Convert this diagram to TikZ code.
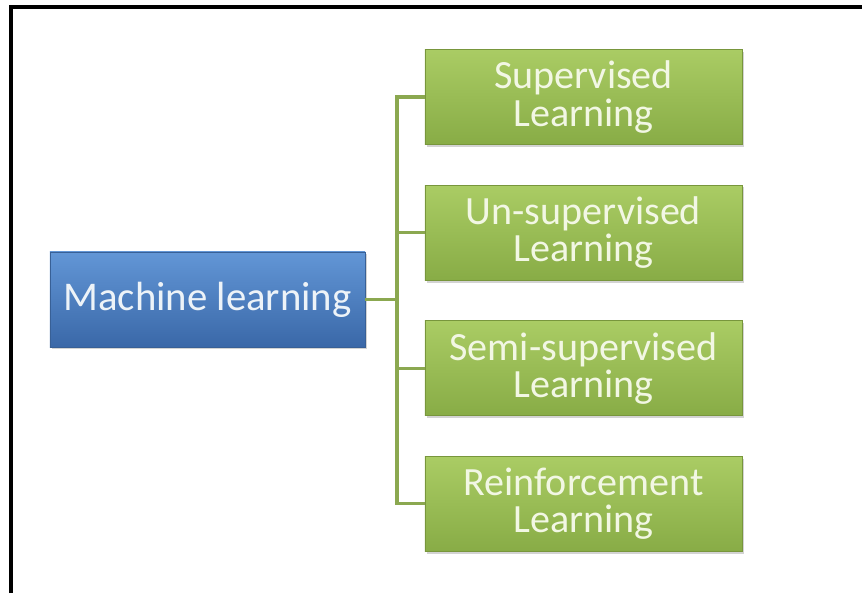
\documentclass[tikz,border=0pt]{standalone}
\usepackage{fontspec}
\setmainfont{Carlito}
\usepackage{xcolor}
\definecolor{mlblue}{RGB}{79,129,189}
\definecolor{mlbluetop}{RGB}{98,150,214}
\definecolor{mlbluebot}{RGB}{58,104,168}
\definecolor{mlblueline}{RGB}{56,96,150}
\definecolor{mlgreen}{RGB}{155,187,89}
\definecolor{mlgreentop}{RGB}{170,204,100}
\definecolor{mlgreenbot}{RGB}{136,172,70}
\definecolor{mlgreenline}{RGB}{120,150,60}
\definecolor{mltext}{RGB}{242,247,228}
\usetikzlibrary{positioning, shadows}

\begin{document}
\begin{tikzpicture}[x=0.025cm, y=-0.025cm,
  rootbox/.style={draw=mlblueline, thin, top color=mlbluetop, bottom color=mlbluebot,
    minimum width=7.875cm, minimum height=2.375cm, text=white!90!mlblue,
    font=\fontsize{29}{30}\selectfont, drop shadow={opacity=0.35, shadow xshift=0.6mm, shadow yshift=-0.6mm}},
  leafbox/.style={draw=mlgreenline, thin, top color=mlgreentop, bottom color=mlgreenbot,
    minimum width=7.925cm, minimum height=2.375cm, text=mltext, align=center,
    font=\fontsize{28.5}{26.5}\selectfont, drop shadow={opacity=0.35, shadow xshift=0.6mm, shadow yshift=-0.6mm}},
  link/.style={draw=mlgreen!90!black, line width=2.4pt}]
  \useasboundingbox (0,0) rectangle (862,593);

  % Frame
  \draw[line width=2.2pt] (11,593) -- (11,7) -- (862,7);

  % Root
  \node[rootbox] (ml) at (207.5,299.5) {Machine learning};

  % Types of learning
  \node[leafbox] (sup)   at (583.5,97)  {Supervised\\Learning};
  \node[leafbox, below=1cm of sup]   (unsup) {Un-supervised\\Learning};
  \node[leafbox, below=1cm of unsup] (semi)  {Semi-supervised\\Learning};
  \node[leafbox, below=1cm of semi]  (reinf) {Reinforcement\\Learning};

  % Tree connectors
  \coordinate (spine) at (397,299.5);
  \foreach \b in {sup,unsup,semi,reinf}
    \draw[link] (ml.east) -- (spine) |- (\b.west);
\end{tikzpicture}
\end{document}
